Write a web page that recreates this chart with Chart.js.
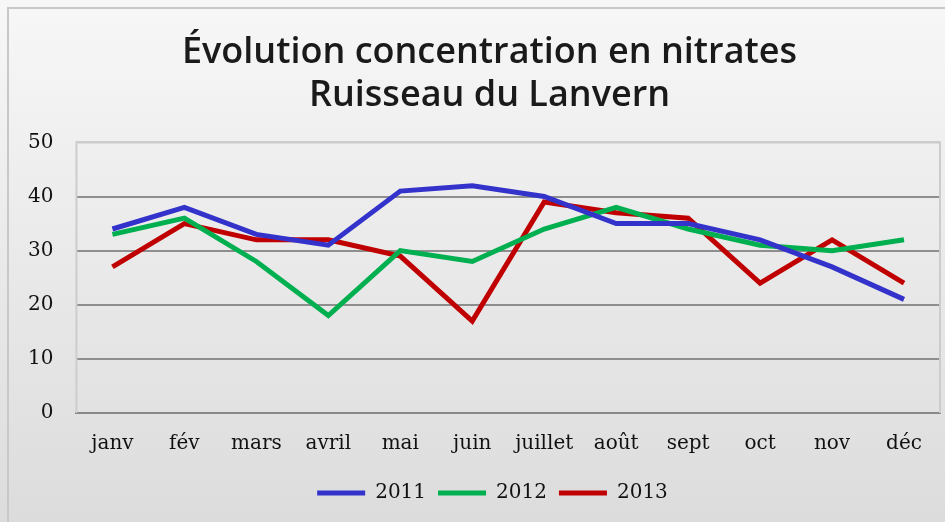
<!DOCTYPE html>
<html>
<head>
<meta charset="utf-8">
<script src="https://cdn.jsdelivr.net/npm/chart.js@4"></script>
<style>
  html, body { margin: 0; padding: 0; background: #ffffff; }
  #wrap { position: relative; width: 945px; height: 522px; }
</style>
</head>
<body>
<div id="wrap"><canvas id="nitrates"></canvas></div>
<script>
// --- données ---
const mois = ['janv', 'fév', 'mars', 'avril', 'mai', 'juin', 'juillet', 'août', 'sept', 'oct', 'nov', 'déc'];
const annees = ['2011', '2012', '2013'];
const serie2011 = [34, 38, 33, 31, 41, 42, 40, 35, 35, 32, 27, 21];
const serie2012 = [33, 36, 28, 18, 30, 28, 34, 38, 34, 31, 30, 32];
const serie2013 = [27, 35, 32, 32, 29, 17, 39, 37, 36, 24, 32, 24];
const ticksY = [0, 10, 20, 30, 40, 50];

const couleurs = ['#3333cc', '#00b050', '#c00000'];
const serifFont = '"DejaVu Serif", "Liberation Serif", serif';

// fond en dégradé + cadre
const fondPlugin = {
  id: 'fond',
  afterLayout(chart) {
    // titre et légende centrés un peu plus à droite, comme dans l'original
    if (chart.titleBlock) { chart.titleBlock.left += 17; chart.titleBlock.right += 17; }
    if (chart.legend) { chart.legend.left += 20; chart.legend.right += 20; }
  },
  beforeDraw(chart) {
    const { ctx, width, height } = chart;
    ctx.save();
    const g = ctx.createLinearGradient(0, 0, 0, height);
    g.addColorStop(0, '#f7f7f7');
    g.addColorStop(1, '#dcdcdc');
    ctx.fillStyle = g;
    ctx.fillRect(0, 0, width, height);
    ctx.strokeStyle = '#c8c8c8';
    ctx.lineWidth = 2;
    ctx.strokeRect(8, 8, width + 10, height + 10);
    ctx.restore();
  },
  beforeDatasetsDraw(chart) {
    const { ctx, chartArea } = chart;
    ctx.save();
    ctx.strokeStyle = '#cccccc';
    ctx.lineWidth = 2;
    ctx.beginPath();
    ctx.moveTo(chartArea.left, chartArea.bottom);
    ctx.lineTo(chartArea.left, chartArea.top);
    ctx.lineTo(chartArea.right, chartArea.top);
    ctx.lineTo(chartArea.right, chartArea.bottom);
    ctx.stroke();
    ctx.restore();
  }
};

const datasets = [serie2011, serie2012, serie2013].map((d, i) => ({
  label: annees[i],
  data: d,
  borderColor: couleurs[i],
  backgroundColor: couleurs[i],
  borderWidth: 5,
  pointRadius: 0,
  tension: 0,
  fill: false
}));

new Chart(document.getElementById('nitrates'), {
  type: 'line',
  data: { labels: mois, datasets: datasets },
  options: {
    responsive: true,
    maintainAspectRatio: false,
    animation: false,
    layout: { padding: { left: 5, right: 5, top: 6, bottom: 9 } },
    plugins: {
      title: {
        display: true,
        text: ['Évolution concentration en nitrates', 'Ruisseau du Lanvern'],
        color: '#1a1a1a',
        font: { family: '"Open Sans", sans-serif', size: 36, weight: '600', lineHeight: 1.2 },
        padding: { top: 25, bottom: 25 }
      },
      legend: {
        position: 'bottom',
        labels: {
          color: '#111',
          font: { family: serifFont, size: 20 },
          usePointStyle: true,
          pointStyle: 'line',
          pointStyleWidth: 48,
          boxWidth: 48,
          padding: 12
        }
      },
      tooltip: { enabled: false }
    },
    scales: {
      x: {
        offset: true,
        grid: { display: false, drawTicks: false },
        border: { color: '#888888', width: 2 },
        ticks: { color: '#111', font: { family: serifFont, size: 20 }, padding: 19, maxRotation: 0, autoSkip: false },
        afterFit: scale => { scale.height = 58; }
      },
      y: {
        min: ticksY[0],
        max: ticksY[ticksY.length - 1],
        afterBuildTicks: axis => { axis.ticks = ticksY.map(v => ({ value: v })); },
        grid: {
          drawTicks: false,
          lineWidth: 2,
          color: c => (c.tick && c.tick.value === ticksY[ticksY.length - 1]) ? '#cccccc' : '#8e8e8e'
        },
        border: { display: false },
        ticks: { color: '#111', font: { family: serifFont, size: 20 }, padding: 23 }
      }
    }
  },
  plugins: [fondPlugin]
});
</script>
</body>
</html>
